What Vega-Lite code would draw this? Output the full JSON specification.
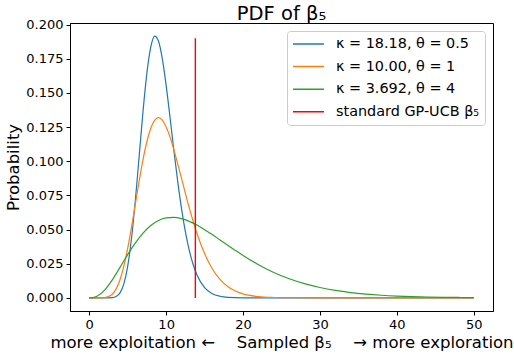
{
  "$schema": "https://vega.github.io/schema/vega-lite/v6.json",
  "autosize": "none",
  "width": 423,
  "height": 288,
  "padding": {"left": 70, "top": 23, "right": 21, "bottom": 49},
  "background": "white",
  "config": {
    "font": "DejaVu Sans",
    "view": {"stroke": "black", "strokeWidth": 1},
    "axis": {"grid": false, "domainColor": "black", "tickColor": "black", "labelColor": "black", "titleColor": "black", "labelFont": "DejaVu Sans", "titleFont": "DejaVu Sans", "labelFontSize": 13, "titleFontSize": 16.5, "titleFontWeight": "normal", "tickSize": 4, "labelPadding": 3, "labelOverlap": false}
  },
  "title": {"text": "PDF of β₅", "fontSize": 19.5, "fontWeight": "normal", "font": "DejaVu Sans", "color": "black", "anchor": "middle", "offset": -6},
  "datasets": {
    "curves": [
      {"s": "κ = 18.18, θ = 0.5", "x": 0, "y": 0},
      {"s": "κ = 18.18, θ = 0.5", "x": 2, "y": 0.0000014},
      {"s": "κ = 18.18, θ = 0.5", "x": 3, "y": 0.000194},
      {"s": "κ = 18.18, θ = 0.5", "x": 3.5, "y": 0.00101},
      {"s": "κ = 18.18, θ = 0.5", "x": 4, "y": 0.00369},
      {"s": "κ = 18.18, θ = 0.5", "x": 4.5, "y": 0.01026},
      {"s": "κ = 18.18, θ = 0.5", "x": 5, "y": 0.0231},
      {"s": "κ = 18.18, θ = 0.5", "x": 5.5, "y": 0.0436},
      {"s": "κ = 18.18, θ = 0.5", "x": 6, "y": 0.0716},
      {"s": "κ = 18.18, θ = 0.5", "x": 6.5, "y": 0.1041},
      {"s": "κ = 18.18, θ = 0.5", "x": 7, "y": 0.1368},
      {"s": "κ = 18.18, θ = 0.5", "x": 7.5, "y": 0.1646},
      {"s": "κ = 18.18, θ = 0.5", "x": 8, "y": 0.1834},
      {"s": "κ = 18.18, θ = 0.5", "x": 8.5, "y": 0.1915},
      {"s": "κ = 18.18, θ = 0.5", "x": 9, "y": 0.1879},
      {"s": "κ = 18.18, θ = 0.5", "x": 9.5, "y": 0.175},
      {"s": "κ = 18.18, θ = 0.5", "x": 10, "y": 0.1555},
      {"s": "κ = 18.18, θ = 0.5", "x": 10.5, "y": 0.1323},
      {"s": "κ = 18.18, θ = 0.5", "x": 11, "y": 0.1082},
      {"s": "κ = 18.18, θ = 0.5", "x": 11.5, "y": 0.0854},
      {"s": "κ = 18.18, θ = 0.5", "x": 12, "y": 0.0653},
      {"s": "κ = 18.18, θ = 0.5", "x": 12.5, "y": 0.0484},
      {"s": "κ = 18.18, θ = 0.5", "x": 13, "y": 0.0349},
      {"s": "κ = 18.18, θ = 0.5", "x": 13.5, "y": 0.0246},
      {"s": "κ = 18.18, θ = 0.5", "x": 14, "y": 0.0169},
      {"s": "κ = 18.18, θ = 0.5", "x": 15, "y": 0.00749},
      {"s": "κ = 18.18, θ = 0.5", "x": 16, "y": 0.00307},
      {"s": "κ = 18.18, θ = 0.5", "x": 17, "y": 0.00118},
      {"s": "κ = 18.18, θ = 0.5", "x": 18, "y": 0.000426},
      {"s": "κ = 18.18, θ = 0.5", "x": 20, "y": 0.000048},
      {"s": "κ = 18.18, θ = 0.5", "x": 25, "y": 0},
      {"s": "κ = 18.18, θ = 0.5", "x": 50, "y": 0},
      {"s": "κ = 10.00, θ = 1", "x": 0, "y": 0},
      {"s": "κ = 10.00, θ = 1", "x": 1, "y": 0.000001},
      {"s": "κ = 10.00, θ = 1", "x": 2, "y": 0.000191},
      {"s": "κ = 10.00, θ = 1", "x": 3, "y": 0.0027},
      {"s": "κ = 10.00, θ = 1", "x": 4, "y": 0.01323},
      {"s": "κ = 10.00, θ = 1", "x": 4.5, "y": 0.0232},
      {"s": "κ = 10.00, θ = 1", "x": 5, "y": 0.0363},
      {"s": "κ = 10.00, θ = 1", "x": 5.5, "y": 0.0518},
      {"s": "κ = 10.00, θ = 1", "x": 6, "y": 0.0688},
      {"s": "κ = 10.00, θ = 1", "x": 6.5, "y": 0.0858},
      {"s": "κ = 10.00, θ = 1", "x": 7, "y": 0.1014},
      {"s": "κ = 10.00, θ = 1", "x": 7.5, "y": 0.1144},
      {"s": "κ = 10.00, θ = 1", "x": 8, "y": 0.1241},
      {"s": "κ = 10.00, θ = 1", "x": 8.5, "y": 0.1299},
      {"s": "κ = 10.00, θ = 1", "x": 9, "y": 0.1318},
      {"s": "κ = 10.00, θ = 1", "x": 9.5, "y": 0.13},
      {"s": "κ = 10.00, θ = 1", "x": 10, "y": 0.1251},
      {"s": "κ = 10.00, θ = 1", "x": 10.5, "y": 0.1178},
      {"s": "κ = 10.00, θ = 1", "x": 11, "y": 0.1085},
      {"s": "κ = 10.00, θ = 1", "x": 12, "y": 0.0874},
      {"s": "κ = 10.00, θ = 1", "x": 13, "y": 0.066},
      {"s": "κ = 10.00, θ = 1", "x": 14, "y": 0.0473},
      {"s": "κ = 10.00, θ = 1", "x": 15, "y": 0.0324},
      {"s": "κ = 10.00, θ = 1", "x": 16, "y": 0.0213},
      {"s": "κ = 10.00, θ = 1", "x": 17, "y": 0.0135},
      {"s": "κ = 10.00, θ = 1", "x": 18, "y": 0.00833},
      {"s": "κ = 10.00, θ = 1", "x": 19, "y": 0.00498},
      {"s": "κ = 10.00, θ = 1", "x": 20, "y": 0.0029},
      {"s": "κ = 10.00, θ = 1", "x": 22, "y": 0.000927},
      {"s": "κ = 10.00, θ = 1", "x": 24, "y": 0.000275},
      {"s": "κ = 10.00, θ = 1", "x": 26, "y": 0.000076},
      {"s": "κ = 10.00, θ = 1", "x": 30, "y": 0.000005},
      {"s": "κ = 10.00, θ = 1", "x": 50, "y": 0},
      {"s": "κ = 3.692, θ = 4", "x": 0, "y": 0},
      {"s": "κ = 3.692, θ = 4", "x": 0.5, "y": 0.000198},
      {"s": "κ = 3.692, θ = 4", "x": 1, "y": 0.00113},
      {"s": "κ = 3.692, θ = 4", "x": 2, "y": 0.00568},
      {"s": "κ = 3.692, θ = 4", "x": 3, "y": 0.01317},
      {"s": "κ = 3.692, θ = 4", "x": 4, "y": 0.0223},
      {"s": "κ = 3.692, θ = 4", "x": 5, "y": 0.0316},
      {"s": "κ = 3.692, θ = 4", "x": 6, "y": 0.0402},
      {"s": "κ = 3.692, θ = 4", "x": 7, "y": 0.0474},
      {"s": "κ = 3.692, θ = 4", "x": 8, "y": 0.0529},
      {"s": "κ = 3.692, θ = 4", "x": 9, "y": 0.0566},
      {"s": "κ = 3.692, θ = 4", "x": 10, "y": 0.0585},
      {"s": "κ = 3.692, θ = 4", "x": 11, "y": 0.0589},
      {"s": "κ = 3.692, θ = 4", "x": 12, "y": 0.058},
      {"s": "κ = 3.692, θ = 4", "x": 13, "y": 0.056},
      {"s": "κ = 3.692, θ = 4", "x": 14, "y": 0.0533},
      {"s": "κ = 3.692, θ = 4", "x": 15, "y": 0.0499},
      {"s": "κ = 3.692, θ = 4", "x": 16, "y": 0.0463},
      {"s": "κ = 3.692, θ = 4", "x": 17, "y": 0.0424},
      {"s": "κ = 3.692, θ = 4", "x": 18, "y": 0.0385},
      {"s": "κ = 3.692, θ = 4", "x": 19, "y": 0.0347},
      {"s": "κ = 3.692, θ = 4", "x": 20, "y": 0.031},
      {"s": "κ = 3.692, θ = 4", "x": 22, "y": 0.0243},
      {"s": "κ = 3.692, θ = 4", "x": 24, "y": 0.0186},
      {"s": "κ = 3.692, θ = 4", "x": 26, "y": 0.014},
      {"s": "κ = 3.692, θ = 4", "x": 28, "y": 0.0104},
      {"s": "κ = 3.692, θ = 4", "x": 30, "y": 0.00759},
      {"s": "κ = 3.692, θ = 4", "x": 32, "y": 0.00548},
      {"s": "κ = 3.692, θ = 4", "x": 34, "y": 0.00391},
      {"s": "κ = 3.692, θ = 4", "x": 36, "y": 0.00277},
      {"s": "κ = 3.692, θ = 4", "x": 38, "y": 0.00194},
      {"s": "κ = 3.692, θ = 4", "x": 40, "y": 0.00135},
      {"s": "κ = 3.692, θ = 4", "x": 42, "y": 0.000934},
      {"s": "κ = 3.692, θ = 4", "x": 44, "y": 0.000643},
      {"s": "κ = 3.692, θ = 4", "x": 46, "y": 0.00044},
      {"s": "κ = 3.692, θ = 4", "x": 48, "y": 0.000299},
      {"s": "κ = 3.692, θ = 4", "x": 50, "y": 0.000202}
    ],
    "marker": [
      {"s": "standard GP-UCB β₅\u2002\u2002", "x": 13.8, "y": 0, "y2": 0.19}
    ]
  },
  "encoding": {
    "x": {"field": "x", "type": "quantitative", "scale": {"domain": [-2.5, 52.5], "nice": false, "zero": false},
          "axis": {"values": [0, 10, 20, 30, 40, 50], "labelFontSize": 13, "title": "more exploitation ← \u2003Sampled β₅ \u2003→ more exploration", "titlePadding": 3}},
    "y": {"field": "y", "type": "quantitative", "scale": {"domain": [-0.0096, 0.2011], "nice": false, "zero": false},
          "axis": {"values": [0, 0.025, 0.05, 0.075, 0.1, 0.125, 0.15, 0.175, 0.2], "labelFontSize": 13, "labelOverlap": false, "format": ".3f", "title": "Probability", "titlePadding": 4}},
    "color": {"field": "s", "type": "nominal",
              "scale": {"domain": ["κ = 18.18, θ = 0.5", "κ = 10.00, θ = 1", "κ = 3.692, θ = 4", "standard GP-UCB β₅\u2002\u2002"],
                        "range": ["#1f77b4", "#ff7f0e", "#2ca02c", "#ff0000"]},
              "legend": {"title": null, "orient": "top-right", "offset": 8, "symbolType": "stroke", "symbolSize": 961, "symbolStrokeWidth": 1.5,
                         "labelFontSize": 14.4, "labelFont": "DejaVu Sans", "labelColor": "black", "rowPadding": 6.6, "clipHeight": 16,
                         "fillColor": "white", "strokeColor": "#cccccc", "cornerRadius": 3, "padding": 5, "labelOffset": 11}}
  },
  "layer": [
    {
      "data": {"name": "curves"},
      "mark": {"type": "line", "strokeWidth": 1.2, "interpolate": "monotone", "clip": true},
      "encoding": {
        "order": {"field": "x", "type": "quantitative"}
      }
    },
    {
      "data": {"name": "marker"},
      "mark": {"type": "rule", "strokeWidth": 1.4},
      "encoding": {
        "y2": {"field": "y2"}
      }
    }
  ]
}
